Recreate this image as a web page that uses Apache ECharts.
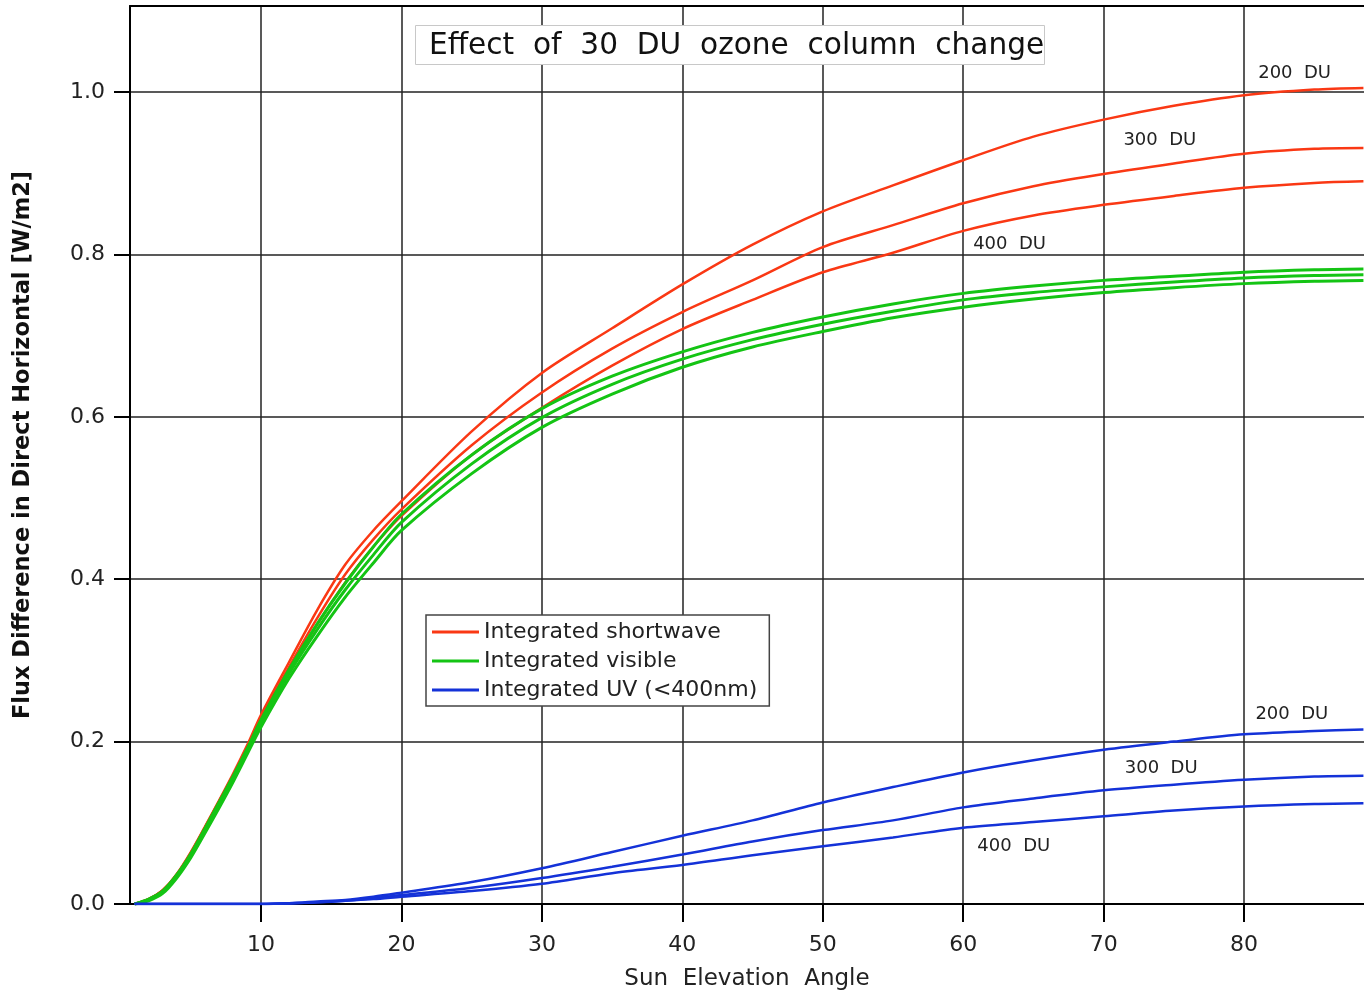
<!DOCTYPE html>
<html>
<head>
<meta charset="utf-8">
<title>Effect of 30 DU ozone column change</title>
<script src="https://cdn.jsdelivr.net/npm/echarts@6/dist/echarts.min.js"></script>
<style>
html, body { margin: 0; padding: 0; background: #fff; }
#main { width: 1364px; height: 999px; }
</style>
</head>
<body>
<div id="main"></div>
<script>
// sun elevation angle (deg)
var angles = [1, 2, 3, 4, 5, 6, 7, 8, 9, 10, 12, 14, 16, 18, 20, 25, 30, 35, 40, 45, 50, 55, 60, 65, 70, 75, 80, 85, 88.5];

// integrated shortwave, 200 / 300 / 400 DU
var sw200 = [0, 0.006, 0.017, 0.037, 0.064, 0.095, 0.127, 0.160, 0.195, 0.233, 0.298, 0.362, 0.418, 0.460, 0.496, 0.582, 0.654, 0.709, 0.763, 0.812, 0.853, 0.885, 0.916, 0.945, 0.966, 0.983, 0.996, 1.003, 1.005];
var sw300 = [0, 0.006, 0.017, 0.036, 0.063, 0.094, 0.126, 0.158, 0.193, 0.229, 0.292, 0.352, 0.406, 0.449, 0.486, 0.565, 0.630, 0.684, 0.729, 0.768, 0.809, 0.836, 0.863, 0.884, 0.899, 0.912, 0.924, 0.930, 0.931];
var sw400 = [0, 0.006, 0.016, 0.036, 0.062, 0.093, 0.125, 0.157, 0.191, 0.225, 0.286, 0.344, 0.396, 0.440, 0.478, 0.553, 0.611, 0.663, 0.708, 0.744, 0.778, 0.802, 0.829, 0.848, 0.861, 0.872, 0.882, 0.888, 0.890];

// integrated visible, 200 / 300 / 400 DU
var vis200 = [0, 0.006, 0.016, 0.036, 0.062, 0.093, 0.125, 0.157, 0.191, 0.227, 0.289, 0.345, 0.395, 0.440, 0.480, 0.553, 0.610, 0.650, 0.680, 0.704, 0.723, 0.739, 0.752, 0.761, 0.768, 0.773, 0.778, 0.781, 0.782];
var vis300 = [0, 0.005, 0.015, 0.035, 0.060, 0.091, 0.122, 0.154, 0.188, 0.223, 0.284, 0.338, 0.387, 0.430, 0.470, 0.542, 0.599, 0.640, 0.671, 0.695, 0.714, 0.730, 0.744, 0.753, 0.760, 0.766, 0.771, 0.774, 0.775];
var vis400 = [0, 0.004, 0.013, 0.032, 0.057, 0.087, 0.118, 0.150, 0.184, 0.218, 0.278, 0.330, 0.378, 0.420, 0.460, 0.530, 0.587, 0.628, 0.661, 0.686, 0.705, 0.722, 0.735, 0.745, 0.753, 0.759, 0.764, 0.767, 0.768];

// integrated UV (<400nm), 200 / 300 / 400 DU
var uv200 = [0, 0, 0, 0, 0, 0, 0, 0, 0, 0, 0.001, 0.003, 0.005, 0.009, 0.014, 0.027, 0.044, 0.064, 0.084, 0.103, 0.125, 0.144, 0.162, 0.177, 0.190, 0.200, 0.209, 0.213, 0.215];
var uv300 = [0, 0, 0, 0, 0, 0, 0, 0, 0, 0, 0.001, 0.002, 0.004, 0.007, 0.011, 0.020, 0.032, 0.046, 0.061, 0.077, 0.091, 0.103, 0.119, 0.130, 0.140, 0.147, 0.153, 0.157, 0.158];
var uv400 = [0, 0, 0, 0, 0, 0, 0, 0, 0, 0, 0.0005, 0.002, 0.004, 0.006, 0.009, 0.016, 0.025, 0.038, 0.048, 0.060, 0.071, 0.082, 0.094, 0.101, 0.108, 0.115, 0.120, 0.123, 0.124];

var xTicks = [10, 20, 30, 40, 50, 60, 70, 80];
var yTicks = [0, 0.2, 0.4, 0.6, 0.8, 1.0];

var seriesNames = ['Integrated shortwave', 'Integrated visible', 'Integrated UV (<400nm)'];
var colors = ['#fa3814', '#14c414', '#1432d8'];

// ozone labels placed next to the curves (data coords)
var duText = ['200  DU', '300  DU', '400  DU'];
var swLabelPos = [[83.6, 1.023], [74.0, 0.940], [63.3, 0.812]];
var uvLabelPos = [[83.4, 0.234], [74.1, 0.167], [63.6, 0.071]];

var font = 'DejaVu Sans';
var xMin = 0.67, xMax = 88.54;

function pairs(ys) {
	return angles.map(function(a, i) { return [a, ys[i]]; });
}

function labelPoints(pos) {
	return {
		symbol: 'circle',
		symbolSize: 0,
		silent: true,
		label: {
			show: true,
			position: 'inside',
			color: '#222',
			fontFamily: font,
			fontSize: 18,
			formatter: function(p) { return p.name; }
		},
		data: pos.map(function(c, i) { return { name: duText[i], coord: c }; })
	};
}

function makeLine(k, ys, width, mp) {
	var s = {
		name: seriesNames[k],
		type: 'line',
		data: pairs(ys),
		showSymbol: false,
		smooth: 0.3,
		lineStyle: { color: colors[k], width: width },
		itemStyle: { color: colors[k] },
		z: 3
	};
	if (mp) s.markPoint = mp;
	return s;
}

var myChart = echarts.init(document.getElementById('main'));
var option = {
	animation: false,
	backgroundColor: '#fff',
	title: {
		text: 'Effect  of  30  DU  ozone  column  change',
		left: 415,
		top: 25,
		padding: [6, 1, 4, 14],
		backgroundColor: '#fff',
		borderColor: '#c8c8c8',
		borderWidth: 1,
		textStyle: { fontFamily: font, fontWeight: 'normal', fontSize: 29.6, color: '#111' }
	},
	legend: {
		orient: 'vertical',
		left: 426,
		top: 615,
		data: seriesNames,
		icon: 'rect',
		itemWidth: 47,
		itemHeight: 3,
		itemGap: 7,
		padding: [6, 12, 5, 6],
		backgroundColor: '#fff',
		borderColor: '#444',
		borderWidth: 1.5,
		textStyle: { fontFamily: font, fontSize: 22, color: '#222' }
	},
	grid: {
		left: 130,
		right: 0,
		top: 6,
		bottom: 95
	},
	xAxis: [{
		type: 'value',
		min: xMin,
		max: xMax,
		name: 'Sun  Elevation  Angle',
		nameLocation: 'middle',
		nameGap: 64,
		nameTextStyle: { fontFamily: font, fontSize: 23, color: '#222' },
		axisLine: { show: true, lineStyle: { color: '#000', width: 2 } },
		axisTick: { show: true, inside: false, length: 18, customValues: xTicks, lineStyle: { color: '#000', width: 2 } },
		axisLabel: { customValues: xTicks, margin: 30, fontFamily: font, fontSize: 22, color: '#222' },
		splitLine: { show: true, lineStyle: { color: '#222', width: 1.5 } }
	}, {
		// top frame line only
		type: 'value',
		position: 'top',
		min: xMin,
		max: xMax,
		axisLine: { show: true, lineStyle: { color: '#000', width: 2 } },
		axisTick: { show: false },
		axisLabel: { show: false },
		splitLine: { show: false }
	}],
	yAxis: {
		type: 'value',
		min: 0,
		max: 1.1059,
		name: 'Flux Difference in Direct Horizontal [W/m2]',
		nameLocation: 'middle',
		nameGap: 95,
		nameTextStyle: { fontFamily: font, fontSize: 22.5, fontWeight: 'bold', color: '#111', padding: [0, 0, 0, 20] },
		axisLine: { show: true, lineStyle: { color: '#000', width: 2 } },
		axisTick: { show: true, inside: false, length: 16, customValues: yTicks, lineStyle: { color: '#000', width: 2 } },
		axisLabel: {
			customValues: yTicks,
			margin: 25,
			fontFamily: font,
			fontSize: 22,
			color: '#222',
			formatter: function(v) { return v.toFixed(1); }
		},
		splitLine: { show: true, lineStyle: { color: '#222', width: 1.5 } }
	},
	series: [
		makeLine(0, sw200, 2.5, labelPoints(swLabelPos)),
		makeLine(0, sw300, 2.5),
		makeLine(0, sw400, 2.5),
		makeLine(1, vis200, 3),
		makeLine(1, vis300, 3),
		makeLine(1, vis400, 3),
		makeLine(2, uv200, 2.5, labelPoints(uvLabelPos)),
		makeLine(2, uv300, 2.5),
		makeLine(2, uv400, 2.5)
	]
};
myChart.setOption(option);
</script>
</body>
</html>
